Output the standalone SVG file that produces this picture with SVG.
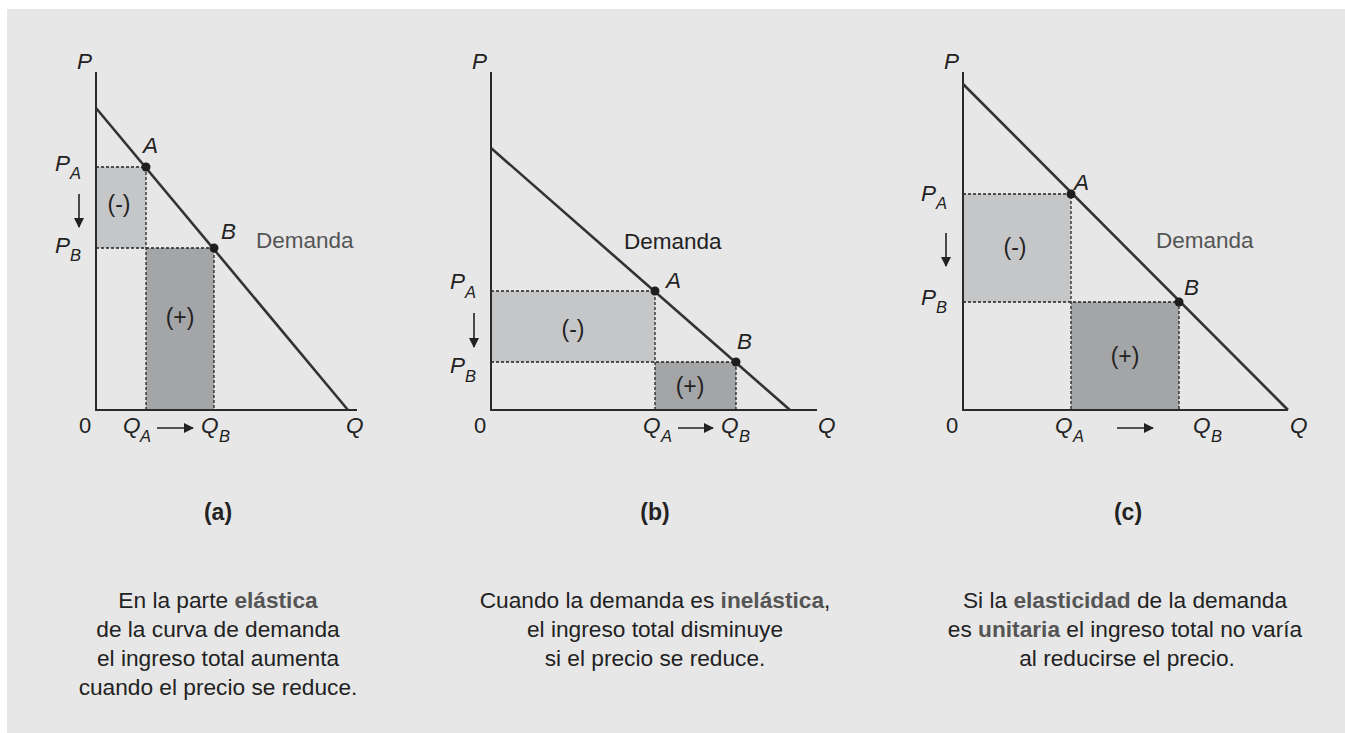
<svg xmlns="http://www.w3.org/2000/svg" width="1345" height="733" viewBox="0 0 1345 733">
<style>
text{font-family:"Liberation Sans",Arial,sans-serif;fill:#222}
.it{font-style:italic;font-size:22.5px}
.sub{font-style:italic;font-size:16.5px}
.sg{font-size:23px;text-anchor:middle}
.zero{font-size:22px}
.dem{font-size:22.5px;fill:#555}
.ttl{font-size:23px;font-weight:bold;text-anchor:middle}
.cap{font-size:22.7px;text-anchor:middle}
.b{font-weight:bold;fill:#555}
.axis{stroke:#2a2a2a;stroke-width:2;fill:none}
.dl{stroke:#333;stroke-width:2.6;fill:none}
.dash{stroke:#222;stroke-width:1.3;stroke-dasharray:3 2;fill:none}
.lt{fill:#c5c6c8}
.dk{fill:#a4a5a7}
.pt{fill:#1e1e1e}
.arr{stroke:#222;stroke-width:1.6;fill:none}
</style>
<defs>
<marker id="ah" viewBox="0 0 10 10" refX="9" refY="5" markerWidth="10" markerHeight="10" markerUnits="userSpaceOnUse" orient="auto">
<path d="M0,0 L10,5 L0,10 Z" fill="#222"/>
</marker>
</defs>
<rect x="7" y="9" width="1338" height="724" fill="#e7e7e7"/>

<g id="panel-a">
<rect class="lt" x="96" y="167" width="50" height="81"/>
<rect class="dk" x="146" y="248" width="68" height="162"/>
<path class="dash" d="M96,167 H146 V410 M96,248 H214 V410"/>
<path class="axis" d="M96,72 V410 H357"/>
<path class="dl" d="M96,108 L348,410"/>
<circle class="pt" cx="146" cy="167" r="4.5"/>
<circle class="pt" cx="214" cy="248" r="4.5"/>
<text class="it" x="77" y="69">P</text>
<text class="it" x="143" y="153">A</text>
<text class="it" x="221" y="239">B</text>
<text class="it" x="55" y="171">P</text><text class="sub" x="70" y="179">A</text>
<text class="it" x="55" y="253">P</text><text class="sub" x="70" y="261">B</text>
<text class="sg" x="119" y="212">(-)</text>
<text class="sg" x="180" y="325">(+)</text>
<text class="dem" x="256" y="248">Demanda</text>
<text class="zero" x="79" y="433">0</text>
<text class="it" x="123" y="433">Q</text><text class="sub" x="140" y="442">A</text>
<text class="it" x="201" y="433">Q</text><text class="sub" x="219" y="442">B</text>
<text class="it" x="346" y="433">Q</text>
<text class="ttl" x="218" y="520">(a)</text>
<text class="cap" x="218" y="608">En la parte <tspan class="b">elástica</tspan></text>
<text class="cap" x="218" y="637">de la curva de demanda</text>
<text class="cap" x="218" y="666">el ingreso total aumenta</text>
<text class="cap" x="218" y="695">cuando el precio se reduce.</text>
</g>

<g id="panel-b">
<rect class="lt" x="491" y="291" width="164" height="71"/>
<rect class="dk" x="655" y="362" width="81" height="48"/>
<path class="dash" d="M491,291 H655 V410 M491,362 H736 V410"/>
<path class="axis" d="M491,72 V410 H817"/>
<path class="dl" d="M491,148 L790,410"/>
<circle class="pt" cx="655" cy="291" r="4.5"/>
<circle class="pt" cx="736" cy="362" r="4.5"/>
<text class="it" x="472" y="69">P</text>
<text class="it" x="666" y="288">A</text>
<text class="it" x="737" y="349">B</text>
<text class="it" x="450" y="289">P</text><text class="sub" x="465" y="298">A</text>
<text class="it" x="450" y="373">P</text><text class="sub" x="465" y="382">B</text>
<text class="sg" x="573" y="337">(-)</text>
<text class="sg" x="690" y="394">(+)</text>
<text class="dem" x="624" y="249" style="fill:#222">Demanda</text>
<text class="zero" x="474" y="433">0</text>
<text class="it" x="643" y="433">Q</text><text class="sub" x="661" y="442">A</text>
<text class="it" x="721" y="433">Q</text><text class="sub" x="739" y="442">B</text>
<text class="it" x="818" y="433">Q</text>
<text class="ttl" x="655" y="520">(b)</text>
<text class="cap" x="655" y="608">Cuando la demanda es <tspan class="b">inelástica</tspan>,</text>
<text class="cap" x="655" y="637">el ingreso total disminuye</text>
<text class="cap" x="655" y="666">si el precio se reduce.</text>
</g>

<g id="panel-c">
<rect class="lt" x="963" y="194" width="108" height="108"/>
<rect class="dk" x="1071" y="302" width="108" height="108"/>
<path class="dash" d="M963,194 H1071 V410 M963,302 H1179 V410"/>
<path class="axis" d="M963,72 V410 H1288"/>
<path class="dl" d="M963,84 L1288,410"/>
<circle class="pt" cx="1071" cy="194" r="4.5"/>
<circle class="pt" cx="1179" cy="302" r="4.5"/>
<text class="it" x="944" y="69">P</text>
<text class="it" x="1074" y="190">A</text>
<text class="it" x="1184" y="295">B</text>
<text class="it" x="921" y="201">P</text><text class="sub" x="936" y="209">A</text>
<text class="it" x="921" y="305">P</text><text class="sub" x="936" y="313">B</text>
<text class="sg" x="1015" y="255">(-)</text>
<text class="sg" x="1125" y="364">(+)</text>
<text class="dem" x="1156" y="248">Demanda</text>
<text class="zero" x="946" y="433">0</text>
<text class="it" x="1055" y="433">Q</text><text class="sub" x="1073" y="442">A</text>
<text class="it" x="1193" y="433">Q</text><text class="sub" x="1211" y="442">B</text>
<text class="it" x="1290" y="433">Q</text>
<text class="ttl" x="1128" y="520">(c)</text>
<text class="cap" x="1125" y="608">Si la <tspan class="b">elasticidad</tspan> de la demanda</text>
<text class="cap" x="1125" y="637">es <tspan class="b">unitaria</tspan> el ingreso total no varía</text>
<text class="cap" x="1127" y="666">al reducirse el precio.</text>
</g>

<g id="connectors">
<line class="arr" x1="79" y1="194" x2="79" y2="227" marker-end="url(#ah)"/>
<line class="arr" x1="157" y1="428" x2="193" y2="428" marker-end="url(#ah)"/>
<line class="arr" x1="474" y1="313" x2="474" y2="347" marker-end="url(#ah)"/>
<line class="arr" x1="678" y1="428" x2="713" y2="428" marker-end="url(#ah)"/>
<line class="arr" x1="946" y1="233" x2="946" y2="266" marker-end="url(#ah)"/>
<line class="arr" x1="1117" y1="428" x2="1153" y2="428" marker-end="url(#ah)"/>
</g>
</svg>
